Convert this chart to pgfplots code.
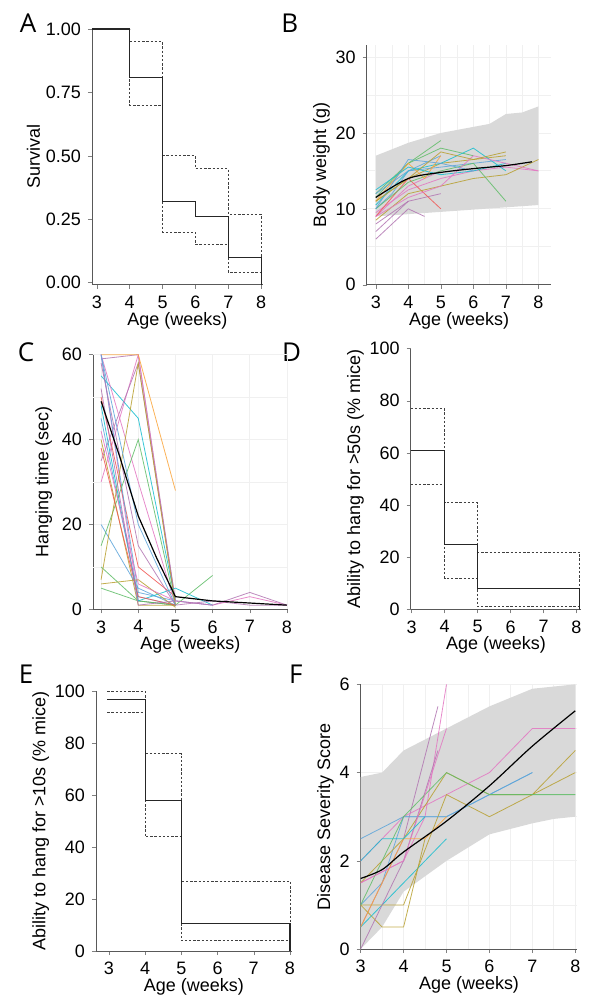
\documentclass[border=0pt]{standalone}
\usepackage{fontspec}
\setmainfont{Liberation Sans}
\newfontfamily\lettfont{Open Sans}
\usepackage{pgfplots}
\pgfplotsset{compat=1.18}
\definecolor{c1}{HTML}{E377C2}\definecolor{c2}{HTML}{5DA5DA}\definecolor{c3}{HTML}{B8A030}
\definecolor{c4}{HTML}{60BD68}\definecolor{c5}{HTML}{B276B2}\definecolor{c6}{HTML}{17BECF}
\definecolor{c7}{HTML}{F15854}\definecolor{c8}{HTML}{FAA43A}
\tikzset{lett/.style={font=\lettfont\fontsize{13}{13}\selectfont}}
\pgfplotsset{
  base/.style={scale only axis, axis lines*=left, tick align=outside,
    axis line style={gray!70!black},
    /pgf/number format/assume math mode=true,
    font=\fontsize{9}{10}\selectfont, tick label style={font=\fontsize{9}{10}\selectfont},
    xlabel={Age (weeks)}, xlabel style={yshift=5pt}, ylabel style={yshift=-4pt},
    major tick length=2pt, xtick={3,...,8}},
  gridded/.style={grid=both, minor tick num=1, major grid style={gray!12}, minor grid style={gray!12}, minor tick length=0pt},
  sp/.style={thin, no marks, opacity=0.85},
  ci/.style={black!75, thin, dash pattern=on 1.2pt off 0.9pt, const plot},
}
\begin{document}
\begin{tikzpicture}
\path (0,0) rectangle (293pt,501pt);
\node[lett] at (14pt,489.5pt) {A};
\node[lett] at (145pt,489.5pt) {B};
\node[lett] at (13pt,324.5pt) {C};
\node[lett] at (146pt,324.5pt) {D};
\node[lett] at (13pt,163.5pt) {E};
\node[lett] at (148pt,163.5pt) {F};
% A
\begin{axis}[base, at={(46pt,358.5pt)}, anchor=south west, width=85.5pt, height=128pt,
  xmin=2.85, xmax=8.05, ymin=-0.008, ymax=1.0, ylabel={Survival},
  ytick={0,0.25,0.5,0.75,1}, yticklabels={0.00,0.25,0.50,0.75,1.00}]
\addplot[ci] coordinates {(2.85,1)(4,0.95)(5,0.50)(6,0.45)(7,0.27)(8,0.27)(8,0)};
\addplot[ci] coordinates {(2.85,1)(4,0.70)(5,0.20)(6,0.15)(7,0.04)(8,0.04)};
\addplot[black!85, semithick, const plot] coordinates {(2.85,1)(4,0.81)(5,0.32)(6,0.26)(7,0.10)(8,0.10)(8,-0.008)};
\end{axis}
% B
\begin{axis}[base, gridded, at={(183.5pt,358.5pt)}, anchor=south west, width=92.5pt, height=120pt,
  xmin=2.72, xmax=8.4, ymin=0, ymax=31.6, ylabel={Body weight (g)}, ytick={0,10,20,30}]
\addplot[fill=gray!30, draw=none] coordinates {(3,9)(4,9.3)(5,9.6)(6,9.9)(7,10.2)(8,10.5)(8,23.5)(7.5,22.7)(7,22.5)(6.5,21.2)(6,20.8)(5,20)(4,18.7)(3,17)} \closedcycle;
\addplot[sp,c1] coordinates {(3,9)(4,13)(5,15)};
\addplot[sp,c2] coordinates {(3,10)(3.5,12)(4,15)(4.5,16)(5,17)};
\addplot[sp,c3] coordinates {(3,11)(4,14)(5,16)(6,16.5)(7,17)};
\addplot[sp,c5] coordinates {(3,8)(4,11)(5,12)};
\addplot[sp,c4] coordinates {(3,12)(4,16)(5,18)(6,17)};
\addplot[sp,c1] coordinates {(3,9.5)(4,12.5)(5,14)(6,15)(7,15.5)(8,15)};
\addplot[sp,c6] coordinates {(3,10.5)(4,15)(5,16)(6,18)(7,15)};
\addplot[sp,c5] coordinates {(3,7)(3.5,9)(4,11)};
\addplot[sp,c4] coordinates {(3,11.5)(4,16)(5,19)};
\addplot[sp,c7] coordinates {(3,9)(4,14)(5,10)};
\addplot[sp,c2] coordinates {(3,12)(4,15)(5,15.5)(6,16)(7,16.5)};
\addplot[sp,c3] coordinates {(3,8.5)(4,12)(5,13)(6,14)(7,14.5)(8,16.5)};
\addplot[sp,c4] coordinates {(3,10)(4,13.5)(5,15)(6,16)(7,11)};
\addplot[sp,c8] coordinates {(3,11)(4,16)(4.5,14)(5,17)};
\addplot[sp,c5] coordinates {(3,6)(3.5,8)(4,10)(4.5,9)};
\addplot[sp,c6] coordinates {(3,12.5)(4,15.5)(5,14.5)(6,15)(7,16)};
\addplot[sp,c1] coordinates {(3,9)(4,11.5)(5,13)(6,17)(7,16)(8,15)};
\addplot[sp,c2] coordinates {(3,10)(4,16.5)(5,16)(6,15)};
\addplot[sp,c3] coordinates {(3,11)(4,14)(5,17.5)(6,16.5)(7,17.5)};
\addplot[black, semithick, smooth] coordinates {(3,11.5)(4,14)(5,14.8)(6,15.3)(7,15.7)(7.8,16.2)};
\end{axis}
% C
\begin{axis}[base, grid=major, major grid style={gray!12}, at={(46.5pt,196pt)}, anchor=south west, width=97.5pt, height=127.5pt,
  xmin=2.78, xmax=8.02, ymin=0, ymax=60, ylabel={Hanging time (sec)}, ytick={0,20,40,60},
  extra y ticks={10,30,50}, extra y tick labels={}, extra y tick style={major tick length=0pt}]
\addplot[sp,c1] coordinates {(3,60)(4,2)(5,1)};
\addplot[sp,c5] coordinates {(3,59)(4,60)(5,2)};
\addplot[sp,c2] coordinates {(3,45)(4,3)(5,1)};
\addplot[sp,c4] coordinates {(3,5)(4,2)(5,1)};
\addplot[sp,c1] coordinates {(3,30)(4,60)(5,1)};
\addplot[sp,c6] coordinates {(3,55)(4,45)(5,2)};
\addplot[sp,c3] coordinates {(3,40)(4,1)(5,1)};
\addplot[sp,c2] coordinates {(3,20)(4,5)(5,1)};
\addplot[sp,c8] coordinates {(3,60)(4,60)(5,28)};
\addplot[sp,c7] coordinates {(3,50)(4,10)(5,3)};
\addplot[sp,c4] coordinates {(3,10)(4,2)(5,1)(6,8)};
\addplot[sp,c5] coordinates {(3,35)(4,58)(5,2)};
\addplot[sp,c2] coordinates {(3,60)(4,4)(5,2)(6,1)};
\addplot[sp,c3] coordinates {(3,6)(4,7)(5,0.5)};
\addplot[sp,c1] coordinates {(3,60)(4,30)(5,1)};
\addplot[sp,c6] coordinates {(3,48)(4,2)(5,5)(6,1)};
\addplot[sp,c4] coordinates {(3,15)(4,40)(5,1)};
\addplot[sp,c5] coordinates {(3,58)(4,15)(5,1)(6,2)(7,1)(8,1)};
\addplot[sp,c1] coordinates {(3,42)(4,6)(5,2)(6,1)(7,3)(8,1)};
\addplot[sp,c3] coordinates {(3,7)(4,58)(5,1)};
\addplot[sp,c2] coordinates {(3,60)(4,20)(5,1)};
\addplot[sp,c7] coordinates {(3,38)(4,3)(5,1)};
\addplot[sp,c5] coordinates {(3,52)(4,1)(5,2)(6,1)(7,4)(8,1)};
\addplot[black, semithick] coordinates {(3,49)(3.5,36)(4,22)(4.5,12)(5,3)(6,2)(7,1.5)(8,1)};
\end{axis}
% D
\begin{axis}[base, at={(205.5pt,196pt)}, anchor=south west, width=85.5pt, height=130.5pt,
  xmin=2.97, xmax=8.15, ymin=0, ymax=100, ylabel={Ability to hang for >50s (\% mice)}, ytick={0,20,...,100}]
\addplot[ci] coordinates {(2.97,77)(4,41)(5,22)(8.1,22)(8.1,0)};
\addplot[ci] coordinates {(2.97,48)(4,12)(5,1)(8.1,1)};
\addplot[black!85, semithick, const plot] coordinates {(2.97,61)(4,25)(5,8)(8.1,8)(8.1,0)};
\end{axis}
% E
\begin{axis}[base, at={(48pt,25pt)}, anchor=south west, width=98pt, height=130pt,
  xmin=2.64, xmax=8.05, ymin=0, ymax=100, ylabel={Ability to hang for >10s (\% mice)}, ytick={0,20,...,100}]
\addplot[ci] coordinates {(2.95,100)(4,76)(5,27)(8,27)(8,0)};
\addplot[ci] coordinates {(2.95,92)(4,44)(5,4)(8,4)};
\addplot[black!85, semithick, const plot] coordinates {(2.95,97)(4,58)(5,10.5)(8,10.5)(8,0)};
\end{axis}
% F
\begin{axis}[base, gridded, at={(180.5pt,26pt)}, anchor=south west, width=108.5pt, height=132.5pt,
  xmin=3, xmax=8.05, ymin=0, ymax=6, ylabel={Disease Severity Score}, ytick={0,2,4,6}]
\addplot[fill=gray!30, draw=none] coordinates {(3,0)(3.5,0.5)(4,1.3)(5,2)(6,2.6)(7,2.85)(7.5,2.95)(8,3)(8,6)(7,5.9)(6,5.5)(5,5)(4,4.5)(3.5,4)(3,3.9)} \closedcycle;
\addplot[sp,c2] coordinates {(3,1)(3.5,1.5)(4,3)(5,3)(6,3.5)(7,4)};
\addplot[sp,c1] coordinates {(3,1.5)(4,2)(4.5,3)(5,6)};
\addplot[sp,c5] coordinates {(3,0.5)(4,2.5)(4.8,5.5)};
\addplot[sp,c3] coordinates {(3,1)(3.5,0.5)(4,0.5)(4.5,2.5)};
\addplot[sp,c1] coordinates {(3,2)(4,3)(5,3.5)(6,4)(7,5)(8,5)};
\addplot[sp,c6] coordinates {(3,0.5)(4,1.5)(5,2.5)};
\addplot[sp,c3] coordinates {(3,1.5)(4,2.5)(5,4)(6,3.5)(7,3.5)(8,4.5)};
\addplot[sp,c3] coordinates {(3,1)(4,1)(5,3.5)(6,3)(7,3.5)(8,4)};
\addplot[sp,c2] coordinates {(3,2.5)(4,3)(5,3)(6,3.5)(7,4)};
\addplot[sp,c5] coordinates {(3,0)(3.5,1)(4,2)(4.8,4.5)};
\addplot[sp,c4] coordinates {(3,1)(4,3)(5,4)(6,3.5)(7,3.5)(8,3.5)};
\addplot[sp,c1] coordinates {(3,1.5)(4,2)(4.5,3.5)(5,5)};
\addplot[sp,c8] coordinates {(3,0.5)(4,2.5)(4.5,2.5)(5,3)};
\addplot[sp,c6] coordinates {(3,2)(3.5,2.5)(4,2.5)(4.5,3)};
\addplot[black, semithick, smooth] coordinates {(3,1.6)(3.5,1.8)(4,2.2)(5,2.9)(6,3.7)(7,4.6)(8,5.4)};
\end{axis}
\end{tikzpicture}
\end{document}
